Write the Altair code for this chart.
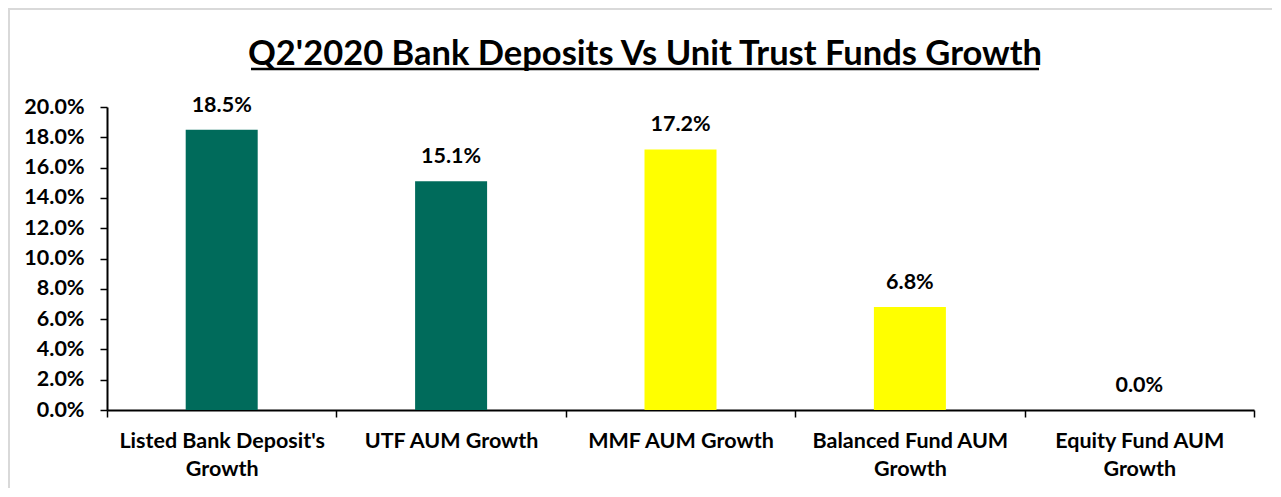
import altair as alt
import pandas as pd

categories = [
    "Listed Bank Deposit's\nGrowth",
    "UTF AUM Growth",
    "MMF AUM Growth",
    "Balanced Fund AUM\nGrowth",
    "Equity Fund AUM\nGrowth",
]
growth_pct = [18.5, 15.1, 17.2, 6.8, 0.0]
bar_colors = ["#006B5B", "#006B5B", "#FFFF00", "#FFFF00", "#FFFF00"]
y_ticks = [0, 2, 4, 6, 8, 10, 12, 14, 16, 18, 20]
title_text = "Q2'2020 Bank Deposits Vs Unit Trust Funds Growth"

FONT = "Lato"
FS = 21.5
W, H = 1147, 303

df = pd.DataFrame({"category": categories, "growth": growth_pct, "color": bar_colors})
one = pd.DataFrame({"a": [0]})

x_enc = alt.X(
    "category:N",
    sort=categories,
    title=None,
    scale=alt.Scale(paddingInner=0, paddingOuter=0),
    axis=alt.Axis(
        labelAngle=0,
        labelExpr="split(datum.label, '\\n')",
        labelFont=FONT,
        labelFontSize=FS,
        labelFontWeight="bold",
        labelColor="#000000",
        labelLineHeight=28,
        labelPadding=13,
        tickBand="extent",
        tickSize=7,
        tickColor="#000000",
        tickWidth=1.5,
        domainColor="#000000",
        domainWidth=2,
        labelLimit=400,
    ),
)
y_enc = alt.Y(
    "growth:Q",
    title=None,
    scale=alt.Scale(domain=[0, 20], nice=False),
    axis=alt.Axis(
        values=y_ticks,
        labelExpr="format(datum.value, '.1f') + '%'",
        labelFont=FONT,
        labelFontSize=FS,
        labelFontWeight="bold",
        labelColor="#000000",
        labelPadding=16,
        tickSize=7,
        tickColor="#000000",
        tickWidth=1.5,
        domainColor="#000000",
        domainWidth=2,
        grid=False,
    ),
)

base = alt.Chart(df).encode(x=x_enc, y=y_enc)

bars = base.mark_bar(size=72).encode(color=alt.Color("color:N", scale=None, legend=None))

labels = base.transform_calculate(
    label="format(datum.growth, '.1f') + '%'"
).mark_text(
    font=FONT, fontSize=FS, fontWeight="bold", color="#000000",
    baseline="alphabetic", dy=-18
).encode(text="label:N")

border = alt.Chart(one).mark_rect(
    fill="#FFFFFF", fillOpacity=0, stroke="#D9D9D9", strokeWidth=2
).encode(
    x=alt.value(-98), x2=alt.value(W + 200),
    y=alt.value(-98), y2=alt.value(H + 200),
)

title = alt.Chart(one).mark_text(
    font=FONT, fontSize=34.5, fontWeight="bold", color="#000000",
    baseline="alphabetic", align="center", text=title_text
).encode(x=alt.value(538), y=alt.value(-42))

underline = alt.Chart(one).mark_rule(color="#000000", strokeWidth=2.5).encode(
    x=alt.value(144), x2=alt.value(932), y=alt.value(-38)
)

chart = alt.layer(border, bars, labels, title, underline).properties(
    width=W, height=H,
    autosize=alt.AutoSizeParams(type="none"),
    padding={"left": 99, "top": 99, "right": 18, "bottom": 78},
    background="#FFFFFF",
).configure_view(stroke=None)

chart.save("out.html", embed_options={"renderer": "svg", "actions": False})
